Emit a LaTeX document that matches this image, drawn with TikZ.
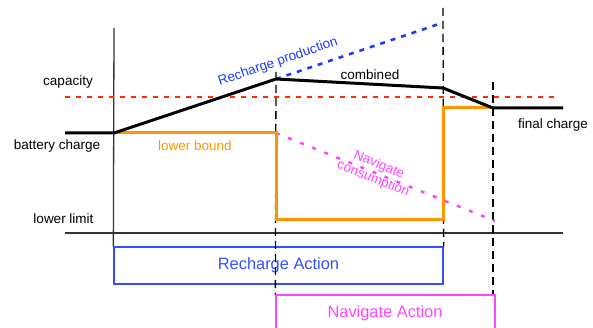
\documentclass[tikz,border=0pt]{standalone}
\usepackage{fontspec}
\setmainfont{Liberation Sans}
\definecolor{cred}{RGB}{255,45,0}
\definecolor{cblue}{RGB}{30,60,255}
\definecolor{cbox}{RGB}{50,80,255}
\definecolor{cmag}{RGB}{255,70,255}
\definecolor{corange}{RGB}{255,150,0}
\begin{document}
\begin{tikzpicture}[x=1pt,y=-1pt,
  lbl/.style={font=\fontsize{13.5}{13}\selectfont, inner sep=0pt},
  big/.style={font=\fontsize{16.4}{18}\selectfont, inner sep=0pt},
  axis/.style={line width=1.3pt, draw=black!80},
  vdash/.style={line width=1.3pt, draw=black, dash pattern=on 8pt off 5pt},
  curve/.style={line width=3pt, line join=miter},
  dotline/.style={line width=2.6pt, dash pattern=on 5pt off 6pt}]
\useasboundingbox (0,0) rectangle (593,328);
\clip (0,0) rectangle (593,328);
% coordinates
\coordinate (bcL) at (65,133);
\coordinate (bc0) at (114,133);
\coordinate (peak) at (276,79);
\coordinate (knee) at (443,88);
\coordinate (fc) at (493,108);
\coordinate (fcR) at (563,108);
\coordinate (lb0) at (276,133);
\coordinate (lb1) at (276,220);
\coordinate (lb2) at (443,220);
\coordinate (lb3) at (443,108);
\coordinate (capL) at (65,97);
\coordinate (capR) at (557,97);
\coordinate (llL) at (65,233);
\coordinate (llR) at (563,233);
\coordinate (vT) at (114,28);
\coordinate (rpEnd) at (439,24);
\coordinate (ncEnd) at (495,221);
\coordinate (d1T) at (276,72);
\coordinate (d2T) at (443,8);
\coordinate (d3T) at (493,82);
% boxes
\node[draw=cbox, line width=1.3pt, minimum width=329pt, minimum height=37pt, inner sep=0pt, text=cbox, big] (rbox) at (278.5,265.5) {Recharge Action};
\node[draw=cmag, line width=1.3pt, minimum width=219pt, minimum height=50pt, inner sep=0pt] (nbox) at (385.5,320) {};
\node[big, text=cmag] (ntext) at (385,313) {Navigate Action};
% axes
\draw[axis] (vT) -- (rbox.north west);
\draw[axis] (llL) -- (llR);
% dashed verticals
\draw[vdash] (d1T) -- (nbox.north west);
\draw[vdash] (d2T) -- (rbox.north east);
\draw[vdash] (d3T) -- (d3T |- nbox.north);
% capacity
\draw[dotline, draw=cred] (capL) -- (capR);
% recharge production
\draw[dotline, draw=cblue] (peak) -- (rpEnd);
% navigate consumption
\draw[line width=2.5pt, draw=cmag, dash pattern=on 4pt off 9pt] (lb0) -- (ncEnd);
% lower bound
\draw[curve, draw=corange] (bc0) -- (lb0) -- (lb1) -- (lb2) -- (lb3) -- (fc);
% combined
\draw[curve, draw=black] (bcL) -- (bc0) -- (peak) -- (knee) -- (fc) -- (fcR);
% labels
\node[lbl] (tcap) at (68,82) {capacity};
\node[lbl] (tbc) at (57,146) {battery charge};
\node[lbl] (tll) at (63.5,219) {lower limit};
\node[lbl, text=corange] (tlb) at (195,146) {lower bound};
\node[lbl] (tcomb) at (370,75) {combined};
\node[lbl] (tfc) at (553,125) {final charge};
\node[lbl, text=cblue, rotate=19] (trp) at (278,62) {Recharge production};
\node[lbl, text=cmag, rotate=-22, align=center, font=\fontsize{13.5}{15}\selectfont] (tnc) at (376,172) {Navigate\\consumption};
\end{tikzpicture}
\end{document}
